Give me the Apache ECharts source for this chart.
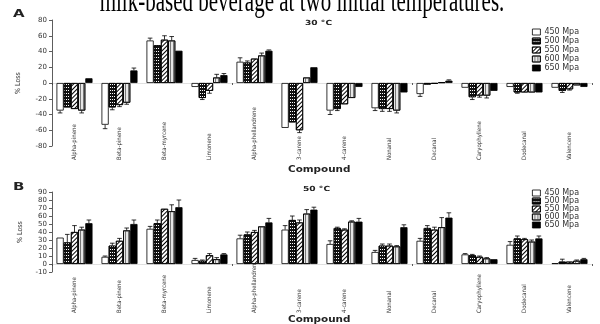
<!DOCTYPE html>
<html>
<head>
<meta charset="utf-8">
<script src="https://cdn.jsdelivr.net/npm/echarts@6/dist/echarts.min.js"></script>
<style>
html, body { margin: 0; padding: 0; background: #fff; }
#main { width: 600px; height: 324px; }
</style>
</head>
<body>
<div id="main"></div>
<script>
// compounds (x axis)
var compounds = ['Alpha-pinene', 'Beta-pinene', 'Beta-myrcene', 'Limonene', 'Alpha-phellandrene', '3-carene',
    '4-carene', 'Nonanal', 'Decanal', 'Caryophyllene', 'Dodecanal', 'Valencene'];
var pressures = ['450 Mpa', '500 Mpa', '550 Mpa', '600 Mpa', '650 Mpa'];

// A : 30 °C, % loss
var a450 = [-35, -53, 54, -5, 27, -57, -35, -32, -14, -6, -5, -6];
var a500 = [-31, -31, 48, -19, 26, -50, -33, -33, -2, -18, -12, -10];
var a550 = [-33, -28, 55, -10, 31, -60, -27, -33, -1, -16, -12, -8];
var a600 = [-35, -25, 54, 7, 35, 7, -19, -35, 1, -16, -12, -3];
var a650 = [6, 16, 41, 10, 41, 20, -5, -12, 3, -10, -12, -5];
// A : error bars
var a450e = [3, 5, 3, 0, 5, 0, 5, 3, 3, 0, 0, 0];
var a500e = [0, 3, 0, 2, 2, 0, 2, 3, 0, 3, 1, 2];
var a550e = [0, 2, 5, 3, 0, 3, 0, 3, 0, 2, 0, 1];
var a600e = [3, 2, 5, 4, 3, 0, 0, 3, 0, 3, 0, 0];
var a650e = [0, 3, 0, 2, 1, 0, 0, 0, 1, 0, 0, 0];

// B : 50 °C, % loss
var b450 = [33, 9, 44, 5, 32, 43, 25, 15, 29, 12, 24, 1];
var b500 = [27, 23, 51, 4, 37, 55, 45, 23, 45, 11, 32, 3];
var b550 = [40, 29, 69, 11, 40, 52, 43, 23, 43, 9, 31, 3];
var b600 = [43, 42, 66, 6, 47, 63, 53, 22, 46, 7, 28, 4];
var b650 = [51, 50, 71, 12, 52, 68, 53, 46, 58, 6, 32, 6];
// B : error bars
var b450e = [0, 1, 3, 2, 4, 5, 4, 2, 3, 1, 4, 0];
var b500e = [10, 3, 4, 1, 3, 5, 1, 2, 3, 1, 3, 3];
var b550e = [8, 3, 0, 2, 2, 3, 1, 2, 3, 1, 1, 0];
var b600e = [3, 3, 8, 2, 0, 5, 1, 1, 12, 1, 2, 1];
var b650e = [4, 5, 9, 1, 5, 3, 4, 3, 6, 0, 3, 1];

var yTicksA = { min: -80, max: 80, interval: 20 };
var yTicksB = { min: -10, max: 90, interval: 10 };

var txt = '#333';
var narrow = '"Liberation Sans Narrow", "DejaVu Sans Condensed", sans-serif';

window.onload = function () {
    echart();
};

// 每个压力的填充样式（白 / 黑点 / 斜线 / 竖线 / 黑）
function barStyle(i) {
    var base = { borderColor: '#000', borderWidth: 0.8 };
    if (i == 0) {
        base.color = '#fff';
    } else if (i == 1) {
        base.color = '#111';
        base.decal = { symbol: 'rect', symbolSize: 1, color: '#fff', dashArrayX: [1, 1], dashArrayY: [1, 1.5], rotation: 0 };
    } else if (i == 2) {
        base.color = '#fff';
        base.decal = { symbol: 'rect', symbolSize: 1, color: '#000', dashArrayX: [1, 0], dashArrayY: [1, 1.6], rotation: -Math.PI / 4 };
    } else if (i == 3) {
        base.color = '#e6e6e6';
        base.decal = { symbol: 'rect', symbolSize: 1, color: '#777', dashArrayX: [1, 0], dashArrayY: [1, 1.5], rotation: Math.PI / 2 };
    } else {
        base.color = '#000';
    }
    return base;
}

function errorItem(params, api) {
    var cat = api.value(0);
    var idx = api.value(1);
    var v = api.value(2);
    var e = api.value(3);
    var band = api.size([1, 0])[0];
    var bw = band * 0.8 / 5;
    var p0 = api.coord([cat, v]);
    var p1 = api.coord([cat, v >= 0 ? v + e : v - e]);
    var x = p0[0] - band * 0.4 + bw * (idx + 0.5);
    var half = bw * 0.32;
    var ls = { stroke: '#000', lineWidth: 0.8 };
    return {
        type: 'group',
        children: [
            { type: 'line', shape: { x1: x, y1: p0[1], x2: x, y2: p1[1] }, style: ls },
            { type: 'line', shape: { x1: x - half, y1: p1[1], x2: x + half, y2: p1[1] }, style: ls }
        ]
    };
}

function errorData(vals, errs) {
    var out = [];
    for (var s = 0; s < vals.length; s++) {
        for (var i = 0; i < compounds.length; i++) {
            if (errs[s][i] > 0) out.push([i, s, vals[s][i], errs[s][i]]);
        }
    }
    return out;
}

function panelAxes(g, bottomMargin) {
    var xs = [{
        type: 'category', gridIndex: g, data: compounds, position: 'bottom',
        axisLine: { show: false, onZero: false },
        axisTick: { show: false },
        axisLabel: {
            rotate: 90, align: 'left', verticalAlign: 'middle', margin: bottomMargin,
            fontSize: 6, color: txt, fontFamily: narrow, interval: 0
        }
    }, {
        type: 'category', gridIndex: g, data: compounds, position: 'top',
        axisLine: { show: true, onZero: true, lineStyle: { color: '#ccc', width: 0.6, type: 'dotted' } },
        axisTick: { show: true, inside: true, length: 2, lineStyle: { color: '#333', width: 0.8 } },
        axisLabel: { show: false }
    }];
    return xs;
}

function echart() {
    var myChart = echarts.init(document.getElementById('main'), null, { renderer: 'canvas' });

    var valsA = [a450, a500, a550, a600, a650];
    var errsA = [a450e, a500e, a550e, a600e, a650e];
    var valsB = [b450, b500, b550, b600, b650];
    var errsB = [b450e, b500e, b550e, b600e, b650e];

    var series = [];
    for (var i = 0; i < pressures.length; i++) {
        series.push({
            name: pressures[i], type: 'bar', xAxisIndex: 0, yAxisIndex: 0,
            barGap: '0%', barCategoryGap: '20%', itemStyle: barStyle(i), data: valsA[i]
        });
    }
    for (var i = 0; i < pressures.length; i++) {
        series.push({
            name: pressures[i], type: 'bar', xAxisIndex: 2, yAxisIndex: 1,
            barGap: '0%', barCategoryGap: '20%', itemStyle: barStyle(i), data: valsB[i]
        });
    }
    series.push({ type: 'custom', xAxisIndex: 0, yAxisIndex: 0, z: 5, renderItem: errorItem, data: errorData(valsA, errsA) });
    series.push({ type: 'custom', xAxisIndex: 2, yAxisIndex: 1, z: 5, renderItem: errorItem, data: errorData(valsB, errsB) });

    var yAxisBase = function (g, t, gap) {
        return {
            type: 'value', gridIndex: g, min: t.min, max: t.max, interval: t.interval,
            axisLine: { show: true, lineStyle: { color: '#333', width: 0.8 } },
            axisTick: { show: true, length: 3, lineStyle: { color: '#333', width: 0.8 } },
            axisLabel: { fontSize: 7, color: txt, margin: 5, fontFamily: 'DejaVu Sans' },
            splitLine: { show: false },
            name: '% Loss', nameLocation: 'middle', nameGap: gap, nameRotate: 90,
            nameTextStyle: { fontSize: 7, color: txt, fontFamily: narrow }
        };
    };

    var legendBase = function (top, gap) {
        return {
            data: pressures, orient: 'vertical', left: 527, top: top, icon: 'rect',
            itemWidth: 8, itemHeight: 6, itemGap: gap, selectedMode: false,
            itemStyle: { borderColor: '#000', borderWidth: 0.8 },
            textStyle: { fontSize: 8, lineHeight: 8, color: txt, fontFamily: 'DejaVu Sans', padding: [0, 0, 0, -1] }
        };
    };

    var option = {
        animation: false,
        backgroundColor: '#fff',
        grid: [
            { left: 52, right: 8, top: 20, height: 126 },
            { left: 52, right: 8, top: 192, height: 80 }
        ],
        xAxis: panelAxes(0, 14).concat(panelAxes(1, 41)),
        yAxis: [yAxisBase(0, yTicksA, 30), yAxisBase(1, yTicksB, 28)],
        legend: [legendBase(23, 1), legendBase(184, 0)],
        graphic: [
            // 页面上方被截断的标题
            { type: 'text', x: 302, y: 3, scaleY: 1.5, style: { text: 'milk-based beverage at two initial temperatures.', align: 'center', verticalAlign: 'middle', fontSize: 21, fontFamily: '"Liberation Serif", serif', fill: '#000' } },
            { type: 'text', x: 13, y: 14, scaleX: 1.5, style: { text: 'A', align: 'left', verticalAlign: 'middle', fontSize: 10, fontWeight: 'bold', fontFamily: 'DejaVu Sans', fill: '#222' } },
            { type: 'text', x: 13, y: 187, scaleX: 1.5, style: { text: 'B', align: 'left', verticalAlign: 'middle', fontSize: 10, fontWeight: 'bold', fontFamily: 'DejaVu Sans', fill: '#222' } },
            { type: 'text', x: 305, y: 23, scaleX: 1.3, style: { text: '30 °C', align: 'left', verticalAlign: 'middle', fontSize: 7, fontWeight: 'bold', fontFamily: 'DejaVu Sans', fill: '#222' } },
            { type: 'text', x: 303, y: 189, scaleX: 1.3, style: { text: '50 °C', align: 'left', verticalAlign: 'middle', fontSize: 7, fontWeight: 'bold', fontFamily: 'DejaVu Sans', fill: '#222' } },
            { type: 'text', x: 288, y: 170, scaleX: 1.3, style: { text: 'Compound', align: 'left', verticalAlign: 'middle', fontSize: 8, fontWeight: 'bold', fontFamily: 'DejaVu Sans', fill: '#222' } },
            { type: 'text', x: 288, y: 320, scaleX: 1.3, style: { text: 'Compound', align: 'left', verticalAlign: 'middle', fontSize: 8, fontWeight: 'bold', fontFamily: 'DejaVu Sans', fill: '#222' } }
        ],
        series: series
    };

    myChart.setOption(option);
}
</script>
</body>
</html>
